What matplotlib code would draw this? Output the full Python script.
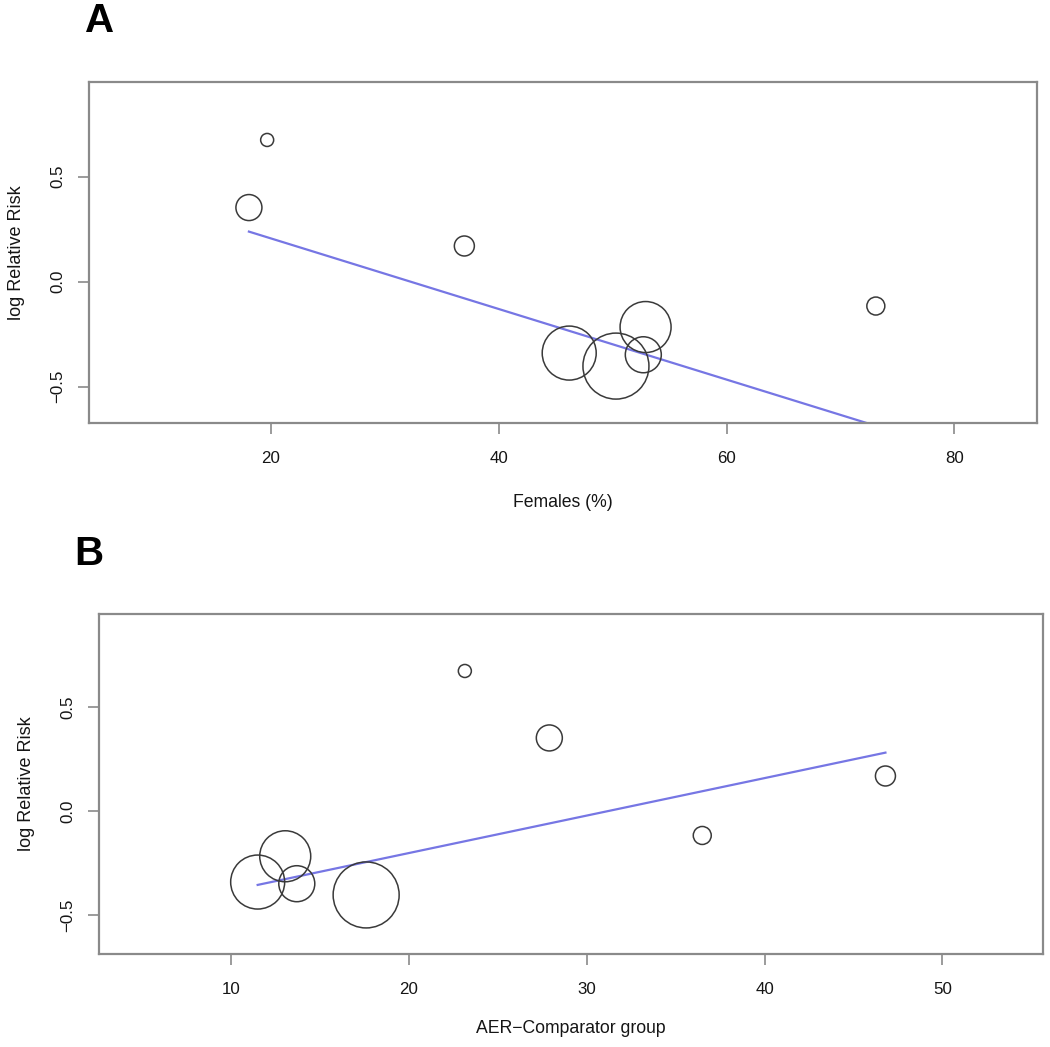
import numpy as np
import matplotlib
matplotlib.use("Agg")
import matplotlib.pyplot as plt

plt.rcParams['font.family'] = ['Liberation Sans', 'DejaVu Sans']

# ---- data (8 studies) ----
log_rr = [0.675, 0.353, 0.17, -0.116, -0.216, -0.34, -0.348, -0.402]
females_pct = [19.7, 18.1, 37.0, 73.1, 52.9, 46.2, 52.7, 50.3]
aer_comparator = [23.15, 27.9, 46.8, 36.5, 13.05, 11.5, 13.7, 17.6]
weights = [1.33, 5.31, 3.14, 2.54, 20.42, 22.89, 10.17, 34.20]   # relative study weights (%)

# meta-regression fits (intercept, slope)
fit_A = (0.543, -0.01682)
fit_B = (-0.561, 0.01802)

xticks_A = [20, 40, 60, 80]
xticks_B = [10, 20, 30, 40, 50]
yticks = [-0.5, 0.0, 0.5]
ytick_labels = ["\u22120.5", "0.0", "0.5"]

# ---- figure ----
W, H, DPI = 1050, 1047, 100
fig = plt.figure(figsize=(W / DPI, H / DPI), dpi=DPI)


def px_axes(left, top, right, bottom):
    return fig.add_axes([left / W, 1 - bottom / H, (right - left) / W, (bottom - top) / H])


box_color = '#8a8a8a'
circle_color = '#3a3a3a'
line_color = '#7676e4'
text_color = '#151515'
max_diam_px = 66


def draw(ax, x, fit, xticks, xlim, ylim, xlabel, xlabel_y):
    w = np.asarray(weights)
    diam_pt = max_diam_px * np.sqrt(w / w.max()) * 72 / DPI
    ax.scatter(x, log_rr, s=diam_pt ** 2, facecolors='none',
               edgecolors=circle_color, linewidths=1.1, zorder=3)
    xs = np.array([min(x), max(x)])
    ax.plot(xs, fit[0] + fit[1] * xs, color=line_color, lw=1.6, zorder=2)
    ax.set_xlim(*xlim)
    ax.set_ylim(*ylim)
    ax.set_xticks(xticks)
    ax.set_xticklabels([str(t) for t in xticks])
    ax.set_yticks(yticks)
    ax.set_yticklabels(ytick_labels, rotation=90, va='center')
    for s in ax.spines.values():
        s.set_color(box_color)
        s.set_linewidth(1.6)
    ax.tick_params(axis='both', direction='out', length=8, width=1.2,
                   color=box_color, labelsize=12.2, labelcolor=text_color)
    ax.tick_params(axis='x', pad=12.5)
    ax.tick_params(axis='y', pad=9)
    ax.set_xlabel(xlabel, fontsize=12.7, color=text_color, va='center')
    ax.xaxis.set_label_coords(0.5, xlabel_y)
    ax.set_ylabel("log Relative Risk", fontsize=13, color=text_color, va='center')
    ax.yaxis.set_label_coords(-0.076, 0.5)


axA = px_axes(89, 82, 1037, 423)
draw(axA, females_pct, fit_A, xticks_A, (4.07, 87.24), (-0.673, 0.951),
     "Females (%)", -0.232)

axB = px_axes(98.5, 614, 1043, 954)
draw(axB, aer_comparator, fit_B, xticks_B, (2.55, 55.66), (-0.686, 0.949),
     "AER\u2212Comparator group", -0.218)

fig.text(100 / W, 1 - 21 / H, "A", fontsize=29, fontweight='bold', ha='center', va='center')
fig.text(89 / W, 1 - 554 / H, "B", fontsize=29, fontweight='bold', ha='center', va='center')

fig.savefig("out.png", dpi=DPI, facecolor='white')
